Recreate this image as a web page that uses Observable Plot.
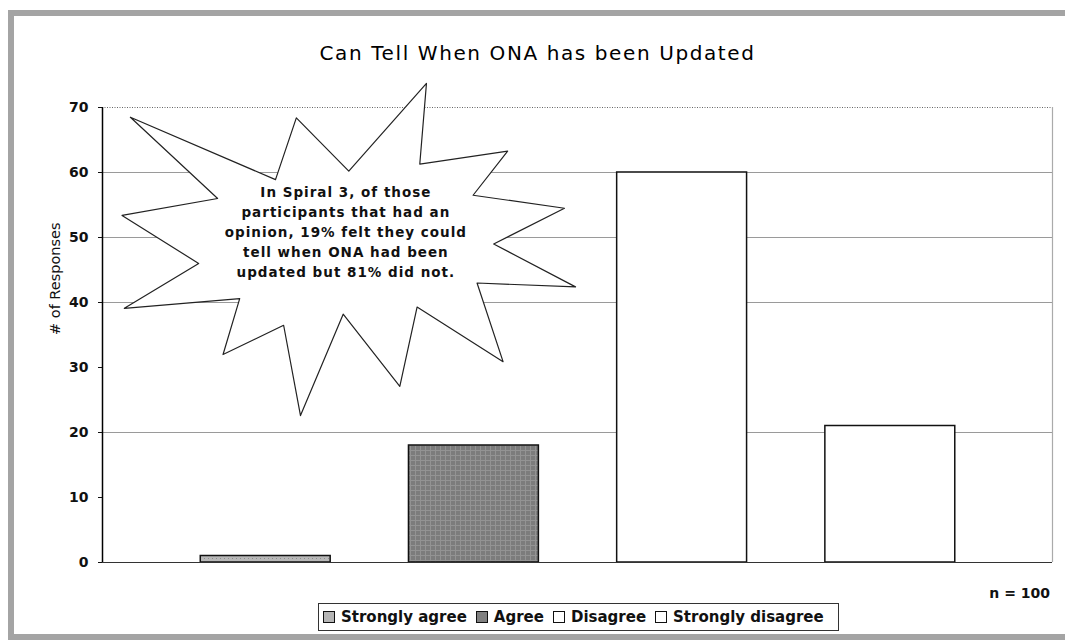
<!DOCTYPE html>
<html>
<head>
<meta charset="utf-8">
<script src="https://cdn.jsdelivr.net/npm/d3@7"></script>
<script src="https://cdn.jsdelivr.net/npm/@observablehq/plot@0.6"></script>
<style>
  html, body { margin: 0; padding: 0; background: #fff; }
  #wrap { position: relative; width: 1065px; height: 640px; overflow: hidden; font-family: "DejaVu Sans", sans-serif; color: #111; }
  #plot { position: absolute; left: 0; top: 70px; }
  #frame { position: absolute; left: 8px; top: 10px; width: 1085px; height: 630px; box-sizing: border-box; border: 6px solid #a4a4a4; pointer-events: none; }
  #title { position: absolute; left: 5px; width: 1065px; top: 41px; line-height: 24px; text-align: center; font-size: 20px; letter-spacing: 1.6px; color: #000; }
  #legend { position: absolute; left: 318px; top: 603px; width: 521px; height: 28px; box-sizing: border-box; border: 1px solid #333; display: flex; align-items: center; padding-left: 4px; font-size: 15px; font-weight: bold; white-space: nowrap; }
  #legend .item { display: flex; align-items: center; margin-right: 9px; }
  #legend .sw { width: 10px; height: 10px; border: 1px solid #111; margin-right: 6px; }
  #n { position: absolute; right: 15px; top: 584px; line-height: 18px; font-size: 14px; font-weight: bold; }
</style>
</head>
<body>
<div id="wrap">
  <div id="title"></div>
  <div id="plot"></div>
  <div id="legend"></div>
  <div id="n"></div>
  <div id="frame"></div>
</div>
<script>
// ---- data ----
const titleText = "Can Tell When ONA has been Updated";
const categories = ["Strongly agree", "Agree", "Disagree", "Strongly disagree"];
const responses = [1, 18, 60, 21];
const barFills = ["#b5b5b5", "#808080", "#ffffff", "#ffffff"];
const yTicks = [0, 10, 20, 30, 40, 50, 60, 70];
const gridValues = [20, 40, 50, 60];
const yLabel = "# of Responses";
const sampleNote = "n = 100";
// starburst callout outline (x in category units, y in responses)
const burstX = [-0.650, 0.047, 0.147, 0.399, 0.772, 0.740, 1.162, 0.996, 1.435, 1.095, 1.488, 1.015,
                1.140, 0.727, 0.644, 0.372, 0.167, 0.086, -0.205, -0.125, -0.679, -0.322, -0.690, -0.231];
const burstY = [68.5, 58.9, 68.4, 60.2, 73.7, 61.3, 63.3, 56.5, 54.5, 49.0, 42.4, 43.0,
                30.9, 39.3, 27.1, 38.2, 22.6, 36.5, 32.0, 40.6, 39.1, 46.0, 53.4, 56.0];
const noteLines = ["In Spiral 3, of those", "participants that had an", "opinion, 19% felt they could",
                   "tell when ONA had been", "updated but 81% did not."];
const notePos = [0.385, 51.1];

// ---- layout params ----
const xDomain = [-0.784, 3.779];
const barHalf = 0.312;
const font = "DejaVu Sans";

const rows = categories.map((c, i) => ({category: c, i, value: responses[i]}));
const burst = burstX.map((x, k) => ({x, y: burstY[k]}));

const chart = Plot.plot({
  width: 1065,
  height: 510,
  marginTop: 37,
  marginBottom: 18,
  marginLeft: 102,
  marginRight: 13,
  style: {background: "none", overflow: "visible", fontFamily: font, color: "#111"},
  x: {type: "linear", domain: xDomain, axis: null},
  y: {domain: [0, d3.max(yTicks)], axis: null},
  color: {domain: categories, range: barFills},
  marks: [
    Plot.ruleY(gridValues, {stroke: "#9a9a9a", strokeWidth: 1.2}),
    Plot.ruleY([d3.max(yTicks)], {stroke: "#666", strokeDasharray: "1,1.5"}),
    Plot.ruleX([xDomain[1]], {stroke: "#aaa", strokeWidth: 1.2}),
    Plot.rect(rows, {x1: d => d.i - barHalf, x2: d => d.i + barHalf, y1: 0, y2: "value",
                     fill: "category", stroke: "#111", strokeWidth: 1.5}),
    Plot.ruleY([0], {stroke: "#333", strokeWidth: 1}),
    Plot.ruleX([xDomain[0]], {stroke: "#000", strokeWidth: 1.5}),
    Plot.line(burst, {x: "x", y: "y", curve: "linear-closed", fill: "white", stroke: "#222", strokeWidth: 1.2}),
    Plot.text([noteLines.join("\n")], {x: notePos[0], y: notePos[1], text: d => d,
               fontSize: 13.5, fontWeight: "bold", lineHeight: 1.48, fill: "#111"}),
    Plot.axisY(yTicks, {tickSize: 4, tickPadding: 10, fontSize: 14, fontWeight: "bold", label: null}),
    Plot.text([yLabel], {frameAnchor: "left", dx: -47.5, rotate: -90, fontSize: 14.5, fill: "#111"})
  ]
});
document.getElementById("plot").append(chart);

// fine hatched texture on the two shaded bars, as in the original print
const svg = d3.select(chart);
const defs = svg.insert("defs", ":first-child");
const p0 = defs.append("pattern").attr("id", "texSA").attr("patternUnits", "userSpaceOnUse").attr("width", 4).attr("height", 4);
p0.append("rect").attr("width", 4).attr("height", 4).attr("fill", "#b8b8b8");
p0.append("rect").attr("width", 1).attr("height", 1).attr("fill", "#8c8c8c");
const p1 = defs.append("pattern").attr("id", "texA").attr("patternUnits", "userSpaceOnUse").attr("width", 5).attr("height", 5);
p1.append("rect").attr("width", 5).attr("height", 5).attr("fill", "#7c7c7c");
p1.append("rect").attr("width", 5).attr("height", 1).attr("fill", "#939393");
p1.append("rect").attr("width", 1).attr("height", 5).attr("fill", "#939393");
const texById = {[barFills[0]]: "url(#texSA)", [barFills[1]]: "url(#texA)"};
svg.selectAll("g[aria-label='rect'] rect").each(function() {
  const f = this.getAttribute("fill");
  if (texById[f]) this.setAttribute("fill", texById[f]);
});

// widen callout lettering like the original
svg.selectAll("text").filter(function() {
  return this.textContent && noteLines.some(l => this.textContent.includes(l.slice(0, 8)));
}).attr("letter-spacing", "1px");

document.getElementById("title").textContent = titleText;
document.getElementById("n").textContent = sampleNote;

const legend = d3.select("#legend");
categories.forEach((c, i) => {
  const it = legend.append("div").attr("class", "item");
  it.append("div").attr("class", "sw").style("background", barFills[i]);
  it.append("span").text(c);
});
</script>
</body>
</html>
